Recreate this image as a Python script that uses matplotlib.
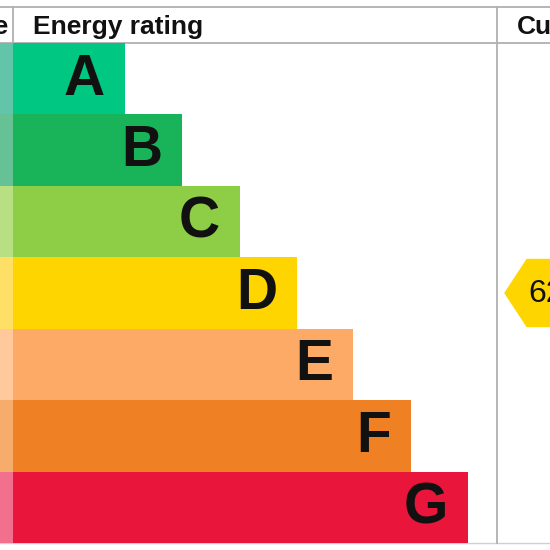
import matplotlib
matplotlib.use("Agg")
import matplotlib.pyplot as plt
from matplotlib.patches import Polygon

# ---- data ----
bands = ["A", "B", "C", "D", "E", "F", "G"]
band_colors = ["#00c781", "#19b459", "#8dce46", "#ffd500", "#fcaa65", "#ef8023", "#e9153b"]
strip_colors = ["#62c4a8", "#66c294", "#b8e083", "#ffe066", "#ffc99c", "#f6ad6c", "#f0708e"]
bar_right = [125, 182, 240, 297, 353, 411, 468]   # right edge of each band bar
header_label = "Energy rating"
current_label = "Current"
prev_label = "Score"
current_score = 62
current_band = "D"

# ---- layout ----
W = H = 550
fig = plt.figure(figsize=(5.5, 5.5), dpi=100)
ax = fig.add_axes([0, 0, 1, 1])
ax.set_xlim(0, W)
ax.set_ylim(H, 0)
ax.axis("off")

font = ["Liberation Sans", "DejaVu Sans"]
top_y, head_y, bot_y = 7, 43, 543
x_left, x_mid = 13, 497
row_h = (bot_y - head_y) / len(bands)
centers = [head_y + row_h * (i + 0.5) for i in range(len(bands))]

# strip of previous column
ax.barh(centers, [x_left] * len(bands), left=0, height=row_h, color=strip_colors, zorder=1)
# band bars
widths = [r - x_left for r in bar_right]
ax.barh(centers, widths, left=x_left, height=row_h, color=band_colors, zorder=2)
for c, r, b in zip(centers, bar_right, bands):
    ax.text(r - 20, c + 1, b, ha="right", va="center", fontsize=41, fontweight="bold",
            color="#111111", family=font, zorder=3)

# grid lines
lc = "#b0b0b0"
ax.plot([0, W], [top_y, top_y], color=lc, lw=1.3, zorder=0)
ax.plot([0, W], [head_y, head_y], color=lc, lw=1.3, zorder=0)
ax.plot([0, W], [bot_y, bot_y], color="#d0d0d0", lw=1.0, zorder=0)
ax.plot([x_left, x_left], [top_y, head_y], color=lc, lw=1.3, zorder=0)
ax.plot([x_mid, x_mid], [top_y, bot_y], color=lc, lw=1.3, zorder=0)

# headers
ax.text(33, 27, header_label, ha="left", va="center", fontsize=19, fontweight="bold",
        color="#111111", family=font)
ax.text(517, 27, current_label, ha="left", va="center", fontsize=19, fontweight="bold",
        color="#111111", family=font)
ax.text(8, 27, prev_label, ha="right", va="center", fontsize=19, fontweight="bold",
        color="#111111", family=font)

# current score arrow
ci = bands.index(current_band)
cy = centers[ci]
half = 33.5
tip_x = 505
arrow = Polygon([[tip_x, cy], [tip_x + 22, cy - half], [W + 40, cy - half],
                 [W + 40, cy + half], [tip_x + 22, cy + half]],
                closed=True, color=band_colors[ci], zorder=2)
ax.add_patch(arrow)
ax.text(528, cy + 1, str(current_score), ha="left", va="center", fontsize=23,
        color="#111111", family=font, zorder=3)

fig.savefig("out.png", dpi=100)
